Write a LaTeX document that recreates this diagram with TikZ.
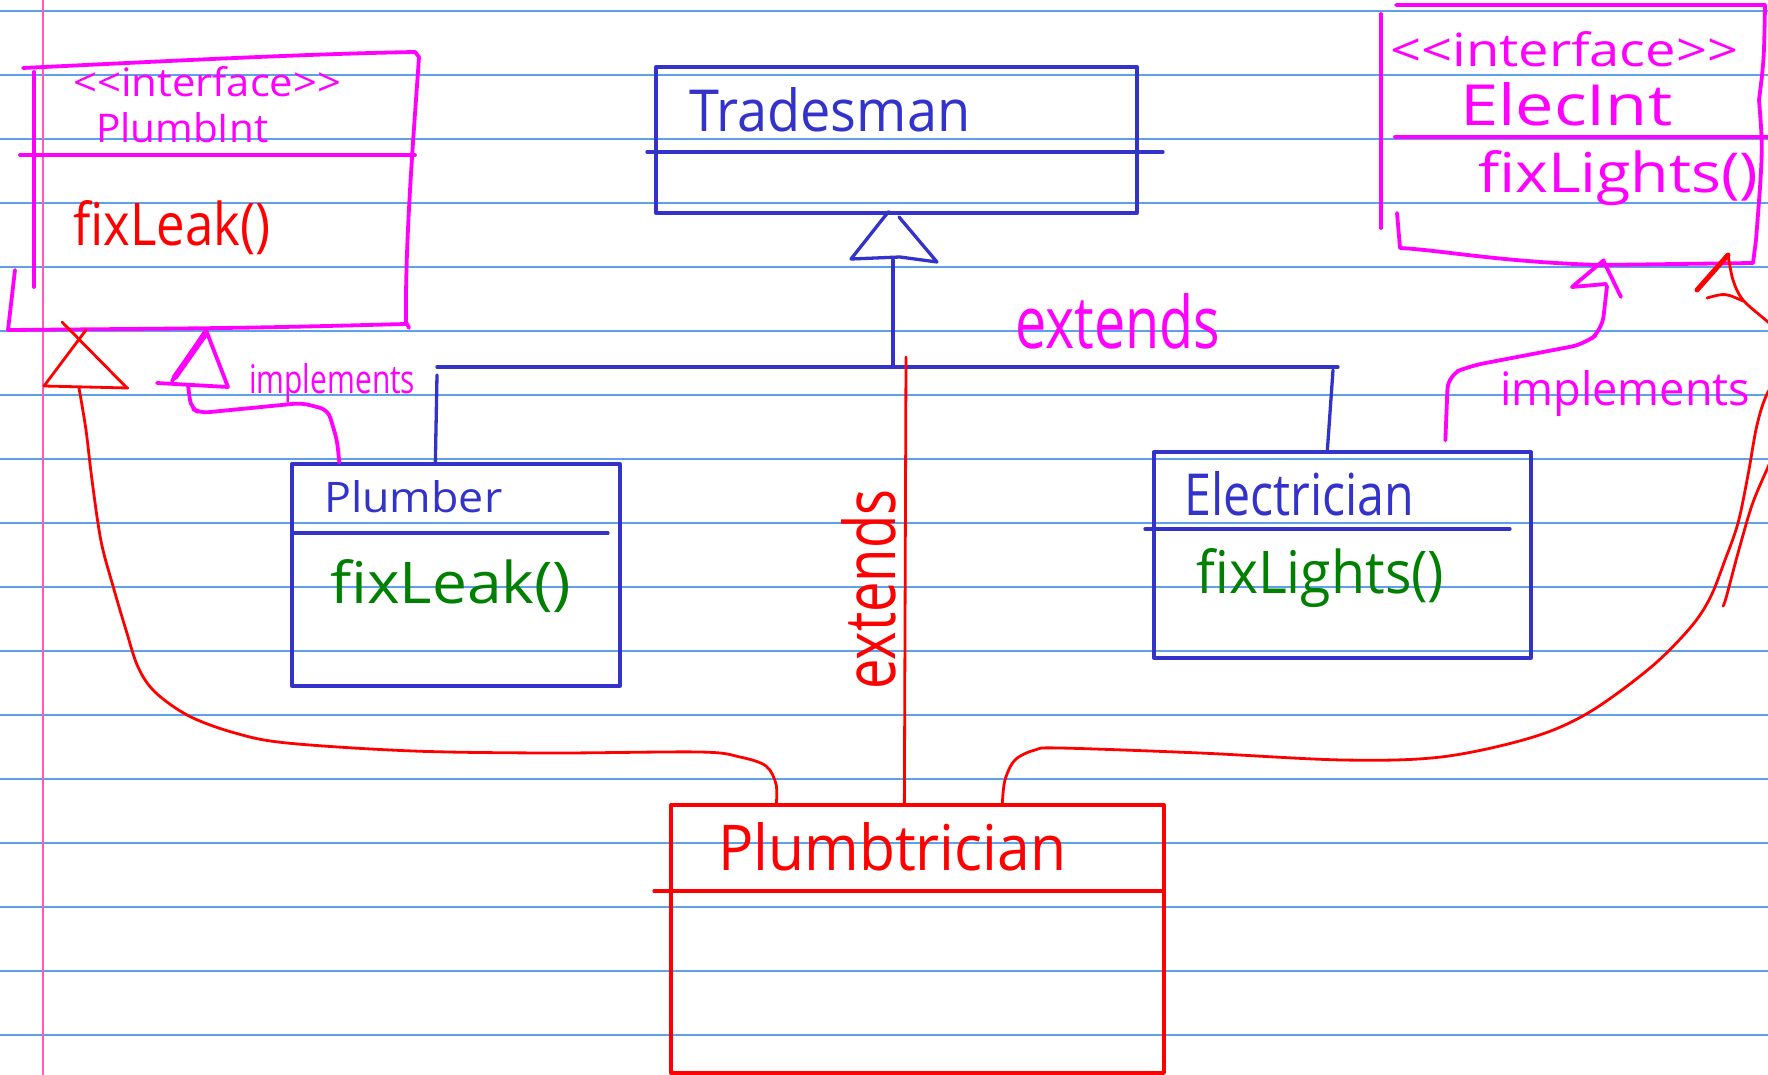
\documentclass[tikz,border=0pt]{standalone}
\usepackage{graphicx}
\usepackage{fontspec}
\newfontfamily\handfont{Open Sans}
\usetikzlibrary{calc}
\definecolor{inkblue}{RGB}{51,51,204}
\definecolor{inkred}{RGB}{255,0,0}
\definecolor{inkmag}{RGB}{255,0,255}
\definecolor{inkgreen}{RGB}{0,128,0}
\definecolor{rulecol}{RGB}{95,160,235}
\definecolor{margincol}{RGB}{255,90,190}
% handwritten-looking label squeezed into a given width and height
\newcommand{\hw}[3]{\resizebox{#1pt}{#2pt}{\handfont #3}}

\begin{document}
\begin{tikzpicture}[x=1pt,y=1pt,line cap=round,line join=round,
  paper/.style={rulecol,line width=1.6pt},
  umlbox/.style={draw,line width=3.3pt,inner sep=0pt,rectangle},
  lbl/.style={anchor=base west,inner sep=0pt},
  blueink/.style={inkblue,line width=3.3pt},
  redink/.style={inkred,line width=2.8pt},
  magink/.style={inkmag,line width=3.8pt}]

\useasboundingbox (0,0) rectangle (1768,-1075);
\fill[white] (0,0) rectangle (1768,-1075);
\begin{scope}
\clip (0,0) rectangle (1768,-1075);

% ruled paper
\foreach \k in {0,...,16} \draw[paper] (0,{-11-64*\k}) -- (1768,{-11-64*\k});
\draw[margincol,line width=1.6pt] (43,0) -- (43,-1075);

% ---- Tradesman
\node[umlbox,draw=inkblue,minimum width=481pt,minimum height=146pt] (trades) at (896.5,-140) {};
\draw[blueink] (647,-152) -- (1163,-152);
\node[lbl,text=inkblue] (tradesname) at (689,-132) {\hw{281}{44}{Tradesman}};

% ---- Plumber
\node[umlbox,draw=inkblue,minimum width=328pt,minimum height=222pt] (plumber) at (456,-575) {};
\draw[blueink] (292,-533) -- (608,-533);
\node[lbl,text=inkblue] (plumbername) at (324,-512) {\hw{178}{32}{Plumber}};
\node[lbl,text=inkgreen] (plumbermeth) at (330,-603) {\hw{241}{44}{fixLeak()}};

% ---- Electrician
\node[umlbox,draw=inkblue,minimum width=377pt,minimum height=206pt] (elec) at (1342.5,-555) {};
\draw[blueink] (1145,-529) -- (1510,-529);
\node[lbl,text=inkblue] (elecname) at (1184,-515) {\hw{230}{44}{Electrician}};
\node[lbl,text=inkgreen] (elecmeth) at (1196,-593) {\hw{248}{45}{fixLights()}};

% ---- Plumbtrician
\node[umlbox,draw=inkred,minimum width=493pt,minimum height=268pt] (plumbt) at (917.5,-939) {};
\draw[inkred,line width=3.3pt] (654,-891) -- (1164,-891);
\node[lbl,text=inkred] (plumbtname) at (718,-870) {\hw{348}{48}{Plumbtrician}};

% ---- generalisation to Tradesman
\coordinate (trtip) at ($(trades.south)+(-8,3)$);
\draw[blueink] (trtip) -- (851,-259) -- (900,-257) -- (937,-262) -- (899,-217);
\draw[blueink] (893,-260) -- (893,-367);
\draw[blueink] (437,-367) -- (1338,-367);
\draw[blueink] (437,-375) -- ($(plumber.north west)+(145,0)$);
\draw[blueink] (1333,-370) -- ($(elec.north west)+(175,0)$);
\node[lbl,text=inkmag] (extlbl) at (1015,-348) {\hw{205}{55}{extends}};

% ---- Plumbtrician extends Tradesman
\draw[redink] (906,-357) -- ($(plumbt.north west)+(235,0)$);
\node[anchor=base west,rotate=90,inner sep=0pt,text=inkred] (extv) at (895,-690) {\hw{200}{54}{extends}};

% ---- PlumbInt interface
\draw[magink] (23,-68) .. controls (150,-62) and (300,-54) .. (415,-52) -- (419,-57)
  .. controls (414,-130) and (405,-240) .. (406,-322) -- (409,-328);
\draw[magink] (406,-324) .. controls (250,-328) .. (8,-330) -- (15,-270);
\draw[magink] (34,-72) -- (34,-287);
\draw[magink] (20,-155) -- (415,-155);
\node[lbl,text=inkmag] (pi-st) at (73,-97) {\hw{268}{30}{<<interface>>}};
\node[lbl,text=inkmag] (pi-name) at (96,-143) {\hw{172}{30}{PlumbInt}};
\node[lbl,text=inkred] (pi-meth) at (73,-245) {\hw{197}{45}{fixLeak()}};

% ---- ElecInt interface
\draw[magink] (1381,-14) -- (1381,-228);
\draw[magink] (1396,-5) -- (1765,-5) .. controls (1764,-60) .. (1759,-100)
  .. controls (1763,-150) .. (1756,-240) -- (1753,-263) -- (1600,-265)
  .. controls (1500,-262) and (1440,-250) .. (1400,-248) -- (1397,-213);
\draw[magink] (1395,-137) -- (1768,-137);
\node[lbl,text=inkmag] (ei-st) at (1390,-67) {\hw{348}{35}{<<interface>>}};
\node[lbl,text=inkmag] (ei-name) at (1460,-126) {\hw{212}{43}{ElecInt}};
\node[lbl,text=inkmag] (ei-meth) at (1478,-193) {\hw{280}{42}{fixLights()}};

% ---- Plumber implements PlumbInt
\coordinate (pbtop) at ($(plumber.north west)+(49,0)$);
\draw[magink,rounded corners=8pt] (pbtop) -- (337,-440) -- (328,-410) -- (302,-403)
  -- (200,-413) -- (191,-408) -- (188,-385);
\draw[magink] (157,-383) -- (228,-387) -- (206,-330) -- (172,-381);
\draw[inkmag,line width=6pt] (206,-333) -- (175,-377);
\node[lbl,text=inkmag] (impl1) at (249,-393) {\hw{166}{30}{implements}};

% ---- Electrician implements ElecInt
\coordinate (eltop) at ($(elec.north west)+(293,10)$);
\draw[magink,rounded corners=14pt] (eltop) -- (1448,-375) -- (1470,-366) -- (1585,-344)
  -- (1602,-330) -- (1607,-286);
\draw[magink] (1572,-287) -- (1606,-284);
\draw[magink] (1604,-260) -- (1572,-287);
\draw[magink] (1604,-262) -- (1621,-297);
\node[lbl,text=inkmag] (impl2) at (1500,-405) {\hw{250}{35}{implements}};

% ---- Plumbtrician implements PlumbInt
\coordinate (ptl) at ($(plumbt.north west)+(107,0)$);
\draw[redink] plot[smooth,tension=0.55] coordinates {(ptl) (776,-784) (766,-766) (740,-757)
  (700,-752) (551,-753) (413,-751) (287,-743) (235,-733) (189,-716) (155,-692) (138,-667)
  (126,-630) (113,-586) (101,-541) (92,-480) (86,-430) (79,-388)};
\draw[redink] (44,-386) -- (86,-330);
\draw[redink] (62,-322) -- (127,-388);
\draw[redink] (44,-386) -- (128,-388);

% ---- Plumbtrician implements ElecInt
\coordinate (ptr) at ($(plumbt.north west)+(333,0)$);
\draw[redink] plot[smooth,tension=0.55] coordinates {(ptr) (1005,-780) (1015,-760) (1035,-750)
  (1060,-748) (1200,-753) (1343,-760) (1441,-757) (1530,-738) (1588,-713) (1650,-668)
  (1690,-628) (1710,-598) (1725,-560) (1738,-523) (1748,-475) (1757,-425) (1768,-392)
  (1790,-360) (1788,-340) (1768,-322) (1743,-300) (1733,-280) (1728,-255)};
\draw[inkred,line width=5pt] (1728,-255) -- (1697,-290);
\draw[redink] (1707,-298) .. controls (1725,-293) .. (1743,-301);
\draw[redink] plot[smooth] coordinates {(1785,-430) (1768,-467) (1752,-505) (1738,-553)
  (1726,-598) (1723,-606)};
\end{scope}
\end{tikzpicture}
\end{document}
